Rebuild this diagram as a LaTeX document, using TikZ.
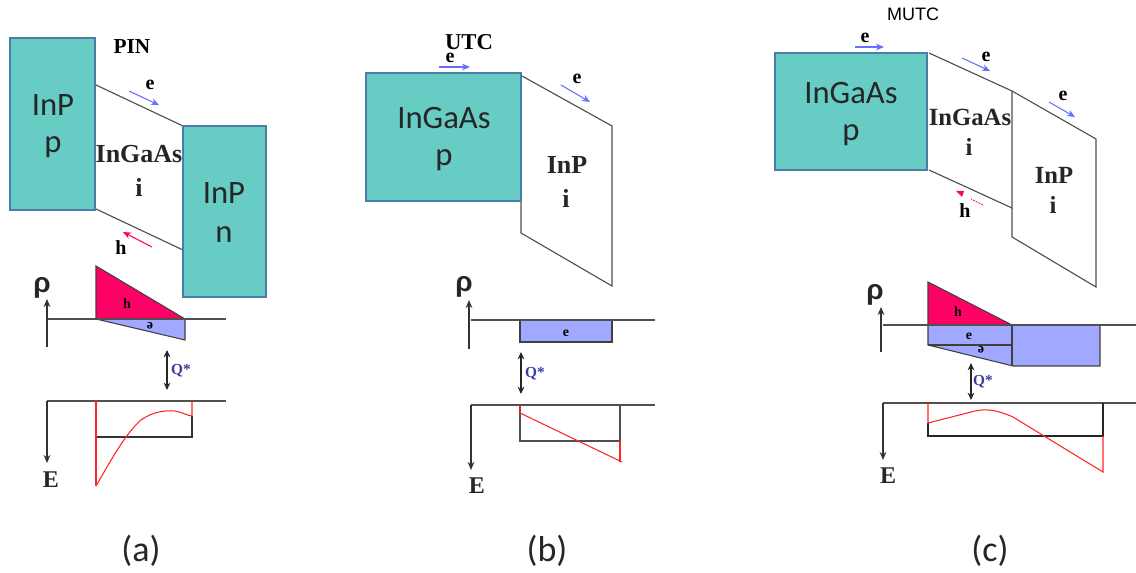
\documentclass[tikz,border=0pt]{standalone}
\usepackage{fontspec}
\setmainfont{Liberation Serif}
\newfontfamily\calib{Carlito}
\newfontfamily\arialf{Liberation Sans}
\usetikzlibrary{arrows.meta}
\definecolor{tealfill}{HTML}{66CCC4}
\definecolor{tealedge}{HTML}{4A7DA8}
\definecolor{pinkfill}{HTML}{FF0066}
\definecolor{bluefill}{HTML}{A0A8FF}
\definecolor{linegray}{HTML}{505050}
\definecolor{qblue}{HTML}{3C3CA0}
\definecolor{elblue}{HTML}{6670FF}
\tikzset{
  x=0.75pt,y=-0.75pt,
  layer/.style={draw=tealedge,fill=tealfill,line width=1.3pt},
  slab/.style={draw=linegray,line width=0.85pt},
  bigtxt/.style={font=\calib\fontsize{24.5}{25}\selectfont,inner sep=0pt,text=black!85},
  serifA/.style={font=\bfseries\fontsize{19.5}{20}\selectfont,inner sep=0pt,text=black!85},
  serifB/.style={font=\bfseries\fontsize{18.5}{20}\selectfont,inner sep=0pt,text=black!85},
  lab/.style={font=\bfseries\fontsize{15}{15}\selectfont,inner sep=0pt},
  tinylab/.style={font=\bfseries\fontsize{10.5}{10}\selectfont,inner sep=0pt},
  axlab/.style={font=\bfseries\fontsize{18}{18}\selectfont,inner sep=0pt,text=black!85},
  rholab/.style={font=\arialf\bfseries\fontsize{21}{21}\selectfont,inner sep=0pt,text=black!85},
  qlab/.style={font=\bfseries\fontsize{11.5}{12}\selectfont,inner sep=0pt,text=qblue},
  captext/.style={font=\calib\fontsize{27}{27}\selectfont,inner sep=0pt,text=black!85},
  axisline/.style={draw=linegray,line width=0.85pt},
  axarrow/.style={draw=black!80,line width=0.85pt,-{Stealth[length=6pt,width=5pt]}},
  dbl/.style={draw=black!85,line width=0.85pt,{Stealth[length=5.5pt,width=5pt]}-{Stealth[length=5.5pt,width=5pt]}},
  eflow/.style={draw=elblue,line width=0.8pt,-{Stealth[length=6pt,width=5pt]}},
  hflow/.style={draw=pinkfill,line width=0.8pt,-{Stealth[length=6pt,width=5pt]}},
  redline/.style={draw=red!85!white,line width=0.8pt},
  pinkpoly/.style={fill=pinkfill,draw=black!75,line width=0.8pt},
  bluepoly/.style={fill=bluefill,draw=black!75,line width=0.8pt},
}
\begin{document}
\begin{tikzpicture}
\useasboundingbox (0,0) rectangle (1136,573);
\fill[white] (0,0) rectangle (1136,573);

%%% (a) PIN
\draw[slab] (96,85) -- (183,126);
\draw[slab] (96,209) -- (183,250);
\draw[layer] (10,38) rectangle (95,210);
\draw[layer] (183,126) rectangle (266,297);
\node[bigtxt] (a1) at (53,105) {InP};
\node[bigtxt] (a2) at (53,147) {p};
\node[bigtxt] (a3) at (224,193) {InP};
\node[bigtxt] (a4) at (224,235) {n};
\node[serifA] (a5) at (139,154) {InGaAs};
\node[serifA] (a6) at (139,187) {i};
\node[font=\bfseries\fontsize{16}{16}\selectfont,inner sep=0pt] (a7) at (132,47) {PIN};
\node[lab] (a8) at (150,85) {e};
\node[lab] (a9) at (121,248) {h};
\draw[eflow] (129,91) -- (159,105);
\draw[hflow] (152,247) -- (123,232);
% rho
\draw[pinkpoly] (96,266) -- (96,319) -- (185,319) -- cycle;
\draw[bluepoly] (96,319) -- (185,319) -- (185,340) -- cycle;
\draw[axisline] (47,319) -- (226,319);
\draw[axarrow] (47,347) -- (47,299);
\node[rholab] (a10) at (42,288) {ρ};
\node[tinylab] (a11) at (127,304) {h};
\node[tinylab,rotate=180] (a12) at (150,326) {e};
\draw[dbl] (167,350) -- (167,390);
\node[qlab] (a13) at (181,371) {Q*};
% E
\draw[axisline] (47,401) -- (226,401);
\draw[axarrow] (47,401) -- (47,463);
\draw[axisline,draw=black!80] (96,437) -- (192,437) -- (192,416);
\draw[redline] (96,401) -- (96,486);
\draw[redline] (96,486) .. controls (110,462) and (125,434) .. (141,420)
   .. controls (152,412) and (165,410) .. (175,411) .. controls (182,412) and (188,416) .. (192,416) -- (192,401);
\node[axlab] (a14) at (51,480) {E};
\node[captext] (a15) at (141,551) {(a)};

%%% (b) UTC
\draw[slab] (522,76) -- (612,126) -- (612,286) -- (521,233) -- (521,201);
\draw[layer] (366,73) rectangle (521,201);
\node[bigtxt] (b1) at (444,118) {InGaAs};
\node[bigtxt] (b2) at (444,160) {p};
\node[serifA] (b3) at (567,165) {InP};
\node[serifA] (b4) at (566,198) {i};
\node[font=\bfseries\fontsize{17}{17}\selectfont,inner sep=0pt] (b5) at (469,42) {UTC};
\node[lab] (b6) at (450,58) {e};
\node[lab] (b7) at (577,79) {e};
\draw[eflow] (439,67) -- (470,67);
\draw[eflow] (561,85) -- (590,102);
\draw[bluepoly] (520,320) rectangle (612,342);
\draw[axisline] (471,320) -- (655,320);
\draw[axarrow] (469,349) -- (469,300);
\node[rholab] (b8) at (464,287) {ρ};
\node[tinylab] (b9) at (566,333) {e};
\draw[dbl] (521,352) -- (521,394);
\node[qlab] (b10) at (535,374) {Q*};
\draw[axisline] (471,405) -- (655,405);
\draw[axarrow] (471,405) -- (471,470);
\draw[axisline] (520,405) -- (520,441) -- (620,441) -- (620,405);
\draw[redline] (520,405) -- (520,413) -- (622,462);
\draw[redline] (620,441) -- (620,462);
\node[axlab] (b11) at (477,486) {E};
\node[captext] (b12) at (547,551) {(b)};

%%% (c) MUTC
\draw[slab] (929,53) -- (1012,91) -- (1012,208) -- (929,170);
\draw[slab] (1012,91) -- (1096,139) -- (1096,287) -- (1012,237) -- (1012,208);
\draw[layer] (775,53) rectangle (927,170);
\node[bigtxt] (c1) at (851,93) {InGaAs};
\node[bigtxt] (c2) at (851,135) {p};
\node[serifB] (c3) at (970,117) {InGaAs};
\node[serifB] (c4) at (969,147) {i};
\node[serifB] (c5) at (1054,175) {InP};
\node[serifB] (c6) at (1053,205) {i};
\node[font=\arialf\fontsize{13.5}{14}\selectfont,inner sep=0pt] (c7) at (913,14) {MUTC};
\node[lab] (c8) at (865,38) {e};
\node[lab] (c9) at (986,57) {e};
\node[lab] (c10) at (1063,96) {e};
\node[lab] (c11) at (965,211) {h};
\draw[eflow] (855,47) -- (884,47);
\draw[eflow] (962,58) -- (990,71);
\draw[eflow] (1049,102) -- (1075,117);
\draw[draw=pinkfill,line width=0.6pt,dash pattern=on 1.5pt off 0.8pt] (983,205) -- (971,199);
\fill[pinkfill] (956,191) -- (964,191) -- (962,197) -- cycle;
\draw[pinkpoly] (928,282) -- (928,325) -- (1012,325) -- cycle;
\draw[bluepoly] (928,325) -- (1100,325) -- (1100,366) -- (1013,366) -- (928,345) -- cycle;
\draw[draw=black!75,line width=0.8pt] (928,345) -- (1012,345);
\draw[draw=black!75,line width=0.8pt] (1012,325) -- (1012,366);
\draw[axisline] (883,325) -- (1136,325);
\draw[axarrow] (881,352) -- (881,307);
\node[rholab] (c12) at (875,295) {ρ};
\node[tinylab] (c13) at (958,312) {h};
\node[tinylab] (c14) at (969,336) {e};
\node[tinylab,rotate=180] (c15) at (981,350) {e};
\draw[dbl] (971,363) -- (971,400);
\node[qlab] (c16) at (983,382) {Q*};
\draw[axisline] (883,403) -- (1136,403);
\draw[axarrow] (883,403) -- (883,460);
\draw[draw=black!85,line width=0.85pt] (928,423) -- (928,436) -- (1103,436) -- (1103,403);
\draw[redline] (928,403) -- (928,423) -- (975,411) .. controls (985,409) and (995,409) .. (1013,417)
   -- (1044,436) -- (1103,472) -- (1103,436);
\node[axlab] (c17) at (888,476) {E};
\node[captext] (c18) at (990,551) {(c)};
\end{tikzpicture}
\end{document}
